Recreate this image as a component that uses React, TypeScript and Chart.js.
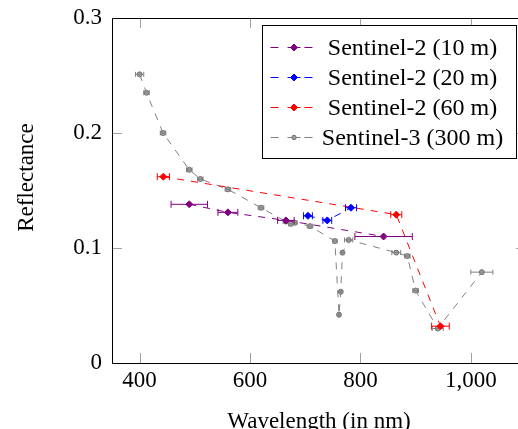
import React, { useEffect, useRef } from "react";
import { Chart, registerables } from "chart.js";

Chart.register(...registerables);

const FONT = "'Liberation Serif', 'Times New Roman', 'DejaVu Serif', serif";

// Sentinel-2 (10 m)
const s2_10_wl = [490, 560, 665, 842];
const s2_10_refl = [0.138, 0.131, 0.124, 0.11];
const s2_10_err = [33, 18, 15, 52];

// Sentinel-2 (20 m)
const s2_20_wl = [705, 740, 783];
const s2_20_refl = [0.128, 0.124, 0.135];
const s2_20_err = [8, 8, 10];

// Sentinel-2 (60 m)
const s2_60_wl = [443, 865, 945];
const s2_60_refl = [0.162, 0.129, 0.032];
const s2_60_err = [11, 10, 16];

// Sentinel-3 (300 m)
const s3_wl = [400, 412.5, 442.5, 490, 510, 560, 620, 665, 673.75, 681.25, 708.75, 753.75, 761.25, 764.375, 767.5, 778.75, 865, 885, 900, 940, 1020];
const s3_refl = [0.251, 0.235, 0.2, 0.168, 0.16, 0.151, 0.135, 0.123, 0.121, 0.122, 0.119, 0.106, 0.042, 0.062, 0.096, 0.107, 0.096, 0.093, 0.063, 0.03, 0.079];
const s3_err = [7.5, 5, 5, 5, 5, 5, 5, 5, 3.75, 3.75, 5, 3.75, 1.25, 1.875, 1.25, 7.5, 8, 5, 5, 10, 20];

const seriesLabels = ["Sentinel-2 (10 m)", "Sentinel-2 (20 m)", "Sentinel-2 (60 m)", "Sentinel-3 (300 m)"];
const xTicks = [400, 600, 800, 1000];
const yTicks = [0, 0.1, 0.2, 0.3];
const xTitle = "Wavelength (in nm)";
const yTitle = "Reflectance";

const COLORS = ["#800080", "#0000ff", "#ff0000", "#808080"];

export default function App() {
  const ref = useRef<HTMLCanvasElement | null>(null);

  useEffect(() => {
    if (!ref.current) return;
    const series = [
      { wl: s2_10_wl, refl: s2_10_refl, err: s2_10_err },
      { wl: s2_20_wl, refl: s2_20_refl, err: s2_20_err },
      { wl: s2_60_wl, refl: s2_60_refl, err: s2_60_err },
      { wl: s3_wl, refl: s3_refl, err: s3_err },
    ];

    const datasets = series.map((s, i) => {
      const isS3 = i === 3;
      return {
        label: seriesLabels[i],
        data: s.wl.map((x, j) => ({ x, y: s.refl[j] })),
        showLine: true,
        borderColor: COLORS[i],
        backgroundColor: COLORS[i],
        borderWidth: 1,
        borderDash: [7, 7],
        tension: 0,
        pointStyle: isS3 ? "circle" : "rectRot",
        pointRadius: isS3 ? 2.5 : 3.5,
        pointBackgroundColor: isS3 ? "#a0a0a0" : COLORS[i],
        pointBorderColor: isS3 ? "#6e6e6e" : COLORS[i],
        pointBorderWidth: 1,
      };
    });

    const errorBars = {
      id: "errorBars",
      afterDatasetDraw(chart: any, args: any) {
        const i = args.index;
        const s = series[i];
        const meta = chart.getDatasetMeta(i);
        const xs = chart.scales.x;
        const ctx = chart.ctx;
        const cap = i === 3 ? 2.5 : 3.5;
        ctx.save();
        ctx.strokeStyle = COLORS[i];
        ctx.lineWidth = 1;
        ctx.setLineDash([]);
        meta.data.forEach((pt: any, j: number) => {
          const xl = xs.getPixelForValue(s.wl[j] - s.err[j]);
          const xr = xs.getPixelForValue(s.wl[j] + s.err[j]);
          const y = pt.y;
          ctx.beginPath();
          ctx.moveTo(xl, y);
          ctx.lineTo(xr, y);
          ctx.moveTo(xl, y - cap);
          ctx.lineTo(xl, y + cap);
          ctx.moveTo(xr, y - cap);
          ctx.lineTo(xr, y + cap);
          ctx.stroke();
        });
        ctx.restore();
      },
    };

    const axes = {
      id: "axesBox",
      afterDatasetsDraw(chart: any) {
        const { ctx, chartArea } = chart;
        const { left, right, top, bottom } = chartArea;
        const xs = chart.scales.x;
        const ys = chart.scales.y;
        const tl = 10;
        ctx.save();
        ctx.setLineDash([]);
        ctx.lineWidth = 1;
        ctx.strokeStyle = "#a0a0a0";
        ctx.beginPath();
        xTicks.forEach((v) => {
          const x = Math.round(xs.getPixelForValue(v)) + 0.5;
          ctx.moveTo(x, bottom);
          ctx.lineTo(x, bottom - tl);
          ctx.moveTo(x, top);
          ctx.lineTo(x, top + tl);
        });
        yTicks.forEach((v) => {
          const y = Math.round(ys.getPixelForValue(v)) + 0.5;
          ctx.moveTo(left, y);
          ctx.lineTo(left + tl, y);
          ctx.moveTo(right, y);
          ctx.lineTo(right - tl, y);
        });
        ctx.stroke();
        ctx.strokeStyle = "#000";
        ctx.beginPath();
        const l = Math.round(left) + 0.5;
        const t = Math.round(top) + 0.5;
        const b = Math.round(bottom) + 0.5;
        const r = Math.round(right) + 0.5;
        ctx.moveTo(l, t);
        ctx.lineTo(r, t);
        ctx.lineTo(r, b);
        ctx.lineTo(l, b);
        ctx.closePath();
        ctx.stroke();
        ctx.restore();
      },
    };

    const titlesAndLegend = {
      id: "titlesAndLegend",
      afterDraw(chart: any) {
        const { ctx, chartArea } = chart;
        ctx.save();
        ctx.fillStyle = "#000";
        ctx.font = `23px ${FONT}`;
        // x title
        ctx.textAlign = "center";
        ctx.textBaseline = "alphabetic";
        ctx.fillText(xTitle, (chartArea.left + chartArea.right) / 2, 428);
        // y title
        ctx.save();
        ctx.translate(33, 177.5);
        ctx.rotate(-Math.PI / 2);
        ctx.fillText(yTitle, 0, 0);
        ctx.restore();

        // legend
        const bw = 254;
        const bh = 133;
        const bx = Math.round(chartArea.right - 10 - bw) + 0.5;
        const by = Math.round(chartArea.top + 7) + 0.5;
        ctx.fillStyle = "#fff";
        ctx.fillRect(bx, by, bw, bh);
        ctx.strokeStyle = "#000";
        ctx.lineWidth = 1;
        ctx.setLineDash([]);
        ctx.strokeRect(bx, by, bw, bh);
        seriesLabels.forEach((lab, i) => {
          const cy = by + 22 + i * 30;
          const x0 = bx + 8;
          ctx.strokeStyle = COLORS[i];
          ctx.lineWidth = 1;
          ctx.beginPath();
          [[0, 8], [17, 30], [34, 42]].forEach(([a, b2]) => {
            ctx.moveTo(x0 + a, cy);
            ctx.lineTo(x0 + b2, cy);
          });
          ctx.stroke();
          const mx = x0 + 23.5;
          ctx.beginPath();
          if (i === 3) {
            ctx.arc(mx, cy, 2.2, 0, Math.PI * 2);
            ctx.fillStyle = "#a0a0a0";
            ctx.fill();
            ctx.strokeStyle = "#6e6e6e";
            ctx.stroke();
          } else {
            const r = 3.5;
            ctx.moveTo(mx - r, cy);
            ctx.lineTo(mx, cy - r);
            ctx.lineTo(mx + r, cy);
            ctx.lineTo(mx, cy + r);
            ctx.closePath();
            ctx.fillStyle = COLORS[i];
            ctx.fill();
            ctx.stroke();
          }
          ctx.fillStyle = "#000";
          ctx.font = `24px ${FONT}`;
          ctx.textAlign = "center";
          ctx.textBaseline = "middle";
          ctx.fillText(lab, bx + 150, cy + 1);
        });
        ctx.restore();
      },
    };

    const tickFont = { family: FONT, size: 23 };

    const chart = new Chart(ref.current, {
      type: "scatter",
      data: { datasets: datasets as any },
      options: {
        animation: false,
        responsive: false,
        devicePixelRatio: 1,
        layout: { padding: { top: 18, right: 14, left: 0, bottom: 0 } },
        plugins: {
          legend: { display: false },
          tooltip: { enabled: false },
        },
        scales: {
          x: {
            type: "linear",
            min: 350,
            max: 1100,
            afterBuildTicks: (s: any) => {
              s.ticks = xTicks.map((v) => ({ value: v }));
            },
            afterFit: (s: any) => {
              s.height = 77;
              s.paddingLeft = 0;
              s.paddingRight = 0;
            },
            grid: { display: false, drawTicks: false },
            border: { display: false },
            ticks: {
              padding: 4,
              color: "#000",
              font: tickFont,
              autoSkip: false,
              maxRotation: 0,
              callback: (v: any) => Number(v).toLocaleString("en-US"),
            },
          },
          y: {
            type: "linear",
            min: 0,
            max: 0.3,
            afterBuildTicks: (s: any) => {
              s.ticks = yTicks.map((v) => ({ value: v }));
            },
            afterFit: (s: any) => {
              s.width = 112;
              s.paddingTop = 0;
              s.paddingBottom = 0;
            },
            grid: { display: false, drawTicks: false },
            border: { display: false },
            ticks: {
              padding: 10,
              color: "#000",
              font: tickFont,
              autoSkip: false,
              callback: (v: any) => String(v),
            },
          },
        },
      },
      plugins: [errorBars, axes, titlesAndLegend],
    });
    return () => chart.destroy();
  }, []);

  return (
    <div
      style={{
        position: "fixed",
        left: 0,
        top: 0,
        width: 518,
        height: 429,
        overflow: "hidden",
        background: "#fff",
      }}
    >
      <canvas ref={ref} width={540} height={440} style={{ display: "block", width: 540, height: 440 }} />
    </div>
  );
}
